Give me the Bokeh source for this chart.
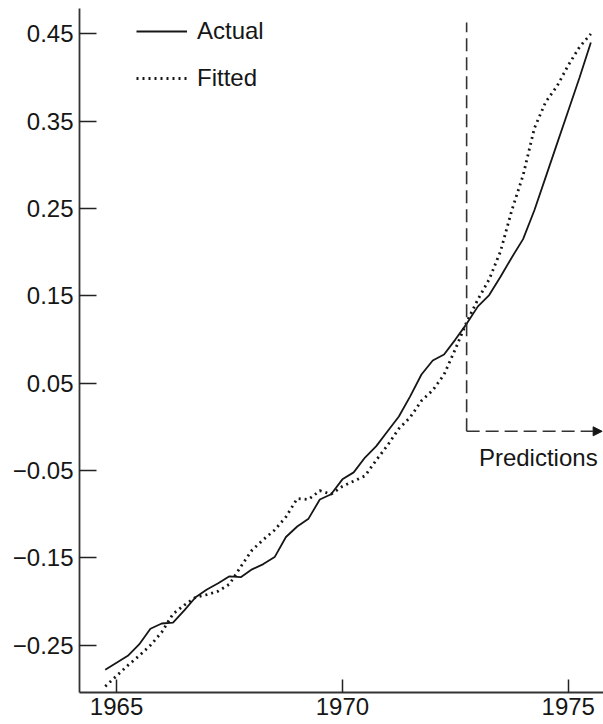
from bokeh.plotting import figure
from bokeh.models import (Range1d, FixedTicker, CustomJSTickFormatter, Legend, LegendItem,
                          Arrow, NormalHead, Label, ColumnDataSource)
from bokeh.embed import file_html
from bokeh.resources import INLINE

# ---- data (quarterly) ----
years = [1964.75 + 0.25 * i for i in range(44)]
actual = [-0.278, -0.270, -0.262, -0.249, -0.231, -0.225, -0.224, -0.210,
          -0.195, -0.186, -0.179, -0.171, -0.172, -0.163, -0.157, -0.149,
          -0.126, -0.114, -0.105, -0.083, -0.077, -0.060, -0.052, -0.035,
          -0.022, -0.005, 0.012, 0.035, 0.060, 0.076, 0.083, 0.100,
          0.118, 0.138, 0.151, 0.172, 0.194, 0.215, 0.248, 0.286,
          0.324, 0.362, 0.400, 0.440]
fitted = [-0.297, -0.285, -0.273, -0.262, -0.250, -0.235, -0.214, -0.204,
          -0.195, -0.192, -0.188, -0.180, -0.160, -0.141, -0.129, -0.118,
          -0.103, -0.082, -0.083, -0.073, -0.077, -0.068, -0.062, -0.056,
          -0.038, -0.021, -0.002, 0.011, 0.030, 0.042, 0.060, 0.089,
          0.120, 0.146, 0.169, 0.201, 0.248, 0.288, 0.342, 0.372,
          0.390, 0.414, 0.435, 0.450]
x_ticks = [1965, 1970, 1975]
y_ticks = [-0.25, -0.15, -0.05, 0.05, 0.15, 0.25, 0.35, 0.45]

pred_start = 1972.75
pred_top = 0.463
pred_level = -0.005
pred_end = 1975.75
pred_label = "Predictions"

FONT = "Liberation Sans"
FS = "24px"
INK = "#161616"

src = ColumnDataSource(dict(year=years, actual=actual, fitted=fitted))

p = figure(width=603, height=724, output_backend="svg", toolbar_location=None,
           x_range=Range1d(1964.18, 1975.78), y_range=Range1d(-0.304, 0.479),
           min_border_left=79, min_border_top=8, min_border_right=0, min_border_bottom=32)
p.outline_line_color = None
p.xgrid.visible = False
p.ygrid.visible = False
p.background_fill_color = "white"
p.border_fill_color = "white"

r_act = p.line("year", "actual", source=src, line_color=INK, line_width=1.8)
r_fit = p.line("year", "fitted", source=src, line_color=INK, line_width=2.8, line_dash="2 4")

# prediction marker
p.segment(x0=[pred_start], y0=[pred_level], x1=[pred_start], y1=[pred_top],
          line_color="#333333", line_width=1.6, line_dash="13 6")
p.add_layout(Arrow(end=NormalHead(size=9, fill_color=INK, line_color=INK),
                   x_start=pred_start, y_start=pred_level, x_end=pred_end, y_end=pred_level,
                   line_color="#333333", line_width=1.6, line_dash="13 6"))
p.add_layout(Label(x=1975.65, y=-0.035, text=pred_label, text_align="right",
                   text_baseline="alphabetic", text_font=FONT, text_font_size=FS,
                   text_color=INK))

# axes
for ax in (p.xaxis[0], p.yaxis[0]):
    ax.axis_line_color = "#333333"
    ax.axis_line_width = 1.8
    ax.major_tick_line_color = "#222222"
    ax.major_tick_line_width = 1.5
    ax.major_tick_out = 0
    ax.minor_tick_in = 0
    ax.minor_tick_out = 0
    ax.major_label_text_font = FONT
    ax.major_label_text_font_size = FS
    ax.major_label_text_color = INK

p.xaxis.ticker = FixedTicker(ticks=x_ticks)
p.xaxis.major_tick_in = 13
p.xaxis.major_label_standoff = 5
p.yaxis.ticker = FixedTicker(ticks=y_ticks)
p.yaxis.major_tick_in = 17
p.yaxis.major_label_standoff = 6
p.yaxis.formatter = CustomJSTickFormatter(
    code="return (tick < 0 ? '\u2212' : '') + Math.abs(tick).toFixed(2);")

legend = Legend(items=[LegendItem(label="Actual", renderers=[r_act]),
                       LegendItem(label="Fitted", renderers=[r_fit])],
                location=(57, 600), padding=0, margin=0, spacing=19,
                glyph_width=51, glyph_height=26, label_height=26, label_standoff=10,
                label_text_font=FONT, label_text_font_size=FS, label_text_color=INK,
                border_line_alpha=0, background_fill_alpha=0)
p.add_layout(legend)

open("out.html", "w").write(file_html(p, INLINE))
